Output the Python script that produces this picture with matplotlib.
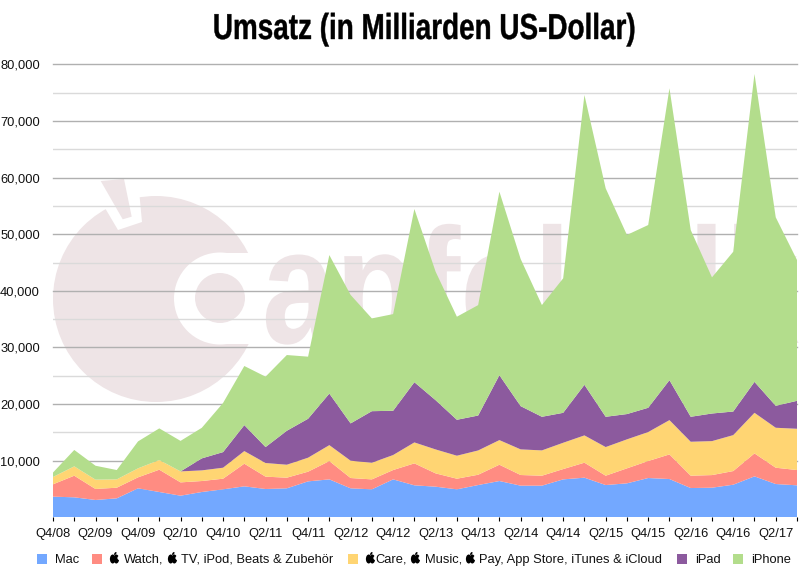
import matplotlib
matplotlib.use('Agg')
import matplotlib.pyplot as plt
from matplotlib.patches import Circle, Ellipse, Polygon, Rectangle
from matplotlib.patheffects import AbstractPathEffect
from matplotlib.ticker import FuncFormatter
from matplotlib.transforms import Affine2D

plt.rcParams['font.family'] = ['Liberation Sans', 'DejaVu Sans']

# one label every second quarter, starts at Q4/08
quarter_labels = ['Q4/08', 'Q2/09', 'Q4/09', 'Q2/10', 'Q4/10', 'Q2/11', 'Q4/11', 'Q2/12', 'Q4/12',
                  'Q2/13', 'Q4/13', 'Q2/14', 'Q4/14', 'Q2/15', 'Q4/15', 'Q2/16', 'Q4/16', 'Q2/17']

mac = [3650, 3530, 3060, 3350, 5120, 4470, 3820, 4470, 4940, 5470, 5000, 5120,
       6350, 6700, 5120, 4940, 6700, 5650, 5410, 4940, 5700, 6410, 5590, 5590,
       6700, 7000, 5700, 6000, 6940, 6760, 5170, 5230, 5760, 7230, 5880, 5650]
watch = [2180, 3820, 1940, 1880, 1940, 3940, 2350, 1940, 1880, 4000, 2180, 1880,
         1710, 3230, 1820, 1760, 1650, 3880, 2350, 1880, 1820, 2880, 1880, 1760,
         1820, 2650, 1650, 2650, 3000, 4350, 2180, 2230, 2410, 4060, 2880, 2700]
services = [1290, 1650, 1650, 1470, 1590, 1710, 1940, 1880, 1940, 2230, 2410, 2290,
            2470, 2820, 3060, 2940, 2650, 3700, 4230, 4060, 4290, 4350, 4530, 4470,
            4650, 4820, 5060, 5120, 5120, 6060, 6000, 6000, 6350, 7170, 7060, 7290]
ipad = [0, 0, 0, 0, 0, 0, 0, 2120, 2760, 4590, 2820, 6000,
        6880, 9110, 6590, 9110, 7820, 10640, 8700, 6350, 6170, 11470, 7640, 5940,
        5290, 8940, 5350, 4470, 4290, 7060, 4410, 4880, 4170, 5470, 3880, 4940]
iphone = [790, 2900, 2460, 1650, 4760, 5590, 5390, 5400, 8680, 10440, 12440, 13380,
          10970, 24470, 22700, 16390, 17080, 30600, 22700, 18210, 19510, 32420, 26000, 19740,
          23760, 51200, 40360, 31650, 32290, 51570, 33000, 24050, 28230, 54390, 33300, 24880]

colors = ['#73A8FF', '#FF8C82', '#FFD573', '#8C5A9E', '#B3DD8C']
pink = '#EEE4E6'


class Squeeze(AbstractPathEffect):
    # no condensed font here, so stretch the glyphs around a pivot in display pixels
    def __init__(self, pivot, sx, sy=1, stroke=0):
        self.pivot, self.sx, self.sy, self.stroke = pivot, sx, sy, stroke

    def draw_path(self, renderer, gc, tpath, affine, rgbFace=None):
        x, y = self.pivot
        stretched = affine + Affine2D().translate(-x, -y).scale(self.sx, self.sy).translate(x, y)
        gc0 = renderer.new_gc()
        gc0.copy_properties(gc)
        gc0.set_linewidth(self.stroke)
        gc0.set_foreground(rgbFace)
        renderer.draw_path(gc0, tpath, stretched, rgbFace)
        gc0.restore()


fig = plt.figure(figsize=(8, 5.68), dpi=100)

# helper axes in pixels, for watermark and legend
px = fig.add_axes([0, 0, 1, 1], zorder=0)
px.set_xlim(0, 800)
px.set_ylim(568, 0)
px.axis('off')

px.add_patch(Circle((156, 299), 103, color=pink, lw=0))
px.add_patch(Polygon([(105, 208), (118, 230), (142, 222), (139, 190), (105, 190)], color='white', lw=0))
px.add_patch(Polygon([(100.7, 181), (124, 179), (131.7, 216.7), (122.7, 219.3)], color=pink, lw=0))
px.add_patch(Rectangle((220, 253), 60, 91, color='white', lw=0))
px.add_patch(Circle((220, 298.5), 46, color='white', lw=0))
px.add_patch(Circle((220, 298), 25, color=pink, lw=0))
px.text(262, 343, 'apfeltalk', color=pink, fontsize=80, fontweight='bold', ha='left', va='baseline',
        path_effects=[Squeeze((262, 568 - 343), 1.19, 1.48)])

px.text(424, 39, 'Umsatz (in Milliarden US-Dollar)', fontsize=26, fontweight='bold', color='black',
        ha='center', va='baseline', path_effects=[Squeeze((424, 568 - 39), 0.772, 1, stroke=0.3)])


def apple(x, y=558.5):
    px.add_patch(Ellipse((x - 1.8, y + 0.5), 5.6, 9, color='black', lw=0))
    px.add_patch(Ellipse((x + 1.8, y + 0.5), 5.6, 9, color='black', lw=0))
    px.add_patch(Circle((x + 5, y - 0.5), 2.1, color='white', lw=0))
    px.add_patch(Ellipse((x + 0.8, y - 5), 1.8, 3.4, angle=35, color='black', lw=0))


legend_y = 558.5
for x, c in zip([37, 92, 348, 677, 733], colors):
    px.add_patch(Rectangle((x, legend_y - 5), 10, 10, color=c, lw=0))
legend_texts = [(55.5, 'Mac'), (124, 'Watch,'), (181, 'TV, iPod, Beats & Zubehör'),
                (375, 'Care,'), (424.5, 'Music,'), (479, 'Pay, App Store, iTunes & iCloud'),
                (695, 'iPad'), (751, 'iPhone')]
for x, s in legend_texts:
    px.text(x, legend_y, s, fontsize=9.3, ha='left', va='center_baseline', color='#111111')
for x in [114.5, 172.5, 370.5, 415.5, 470.5]:
    apple(x)

# the chart itself
ax = fig.add_axes([53 / 800, 1 - 517.3 / 568, 744 / 800, (517.3 - 64.5) / 568], zorder=1)
ax.patch.set_visible(False)
quarters = list(range(len(mac)))
ax.stackplot(quarters, mac, watch, services, ipad, iphone, colors=colors, lw=0, zorder=3)
ax.set_xlim(0, 35)
ax.set_ylim(0, 80000)

ax.set_yticks(range(10000, 80001, 10000))
ax.set_yticks(range(5000, 80000, 10000), minor=True)
ax.yaxis.set_major_formatter(FuncFormatter(lambda v, pos: f'{int(v):,}'))
ax.grid(axis='y', which='major', color='#B0B0B0', lw=1, zorder=1)
ax.grid(axis='y', which='minor', color='#DADADA', lw=1, zorder=1)
ax.set_axisbelow(True)
for line in ax.get_ygridlines():
    line.set_clip_on(False)
ax.set_xticks(quarters[::2])
ax.set_xticklabels(quarter_labels)
ax.set_xticks(quarters[1::2], minor=True)
ax.tick_params(axis='y', which='both', length=0, pad=9.4, labelsize=9.3, labelcolor='#111111')
ax.tick_params(axis='x', which='both', length=3, width=0.8, pad=4.5, labelsize=9.3, labelcolor='#111111')
for s in ax.spines.values():
    s.set_visible(False)

fig.savefig('out.png', dpi=100)
